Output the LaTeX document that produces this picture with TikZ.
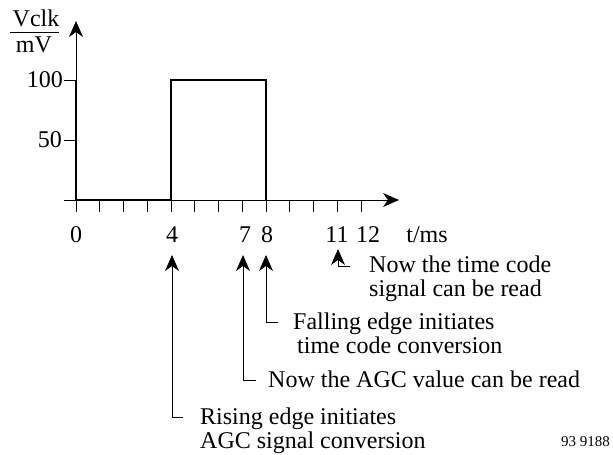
\documentclass[tikz,border=0pt]{standalone}
\usepackage{fontspec}
\setmainfont{Liberation Serif}
\usetikzlibrary{arrows.meta}
\begin{document}
\begin{tikzpicture}[x=1pt,y=-1pt,
  txt/.style={inner sep=0pt,anchor=base west,font=\fontsize{24}{24}\selectfont},
  lbl/.style={inner sep=0pt,anchor=base,font=\fontsize{24}{24}\selectfont},
  ylbl/.style={inner sep=0pt,anchor=base east,font=\fontsize{24}{24}\selectfont},
  axis/.style={line width=1pt},
  sig/.style={line width=2.5pt,line join=miter},
  arr/.style={line width=1pt,-{Stealth[length=16pt,width=14pt,inset=5pt]}},
  tick/.style={line width=1pt}]
\useasboundingbox (0,0) rectangle (613,455);
% axes
\coordinate (yb) at (76,212);
\coordinate (yt) at (76,21);
\coordinate (xl) at (64,200);
\coordinate (xr) at (399,200);
\draw[arr] (yb) -- (yt);
\draw[arr] (xl) -- (xr);
% y ticks
\coordinate (y100) at (76,80);
\coordinate (y50) at (76,140);
\draw[tick] (y100) -- ++(-12,0);
\draw[tick] (y50) -- ++(-12,0);
\node[ylbl] (l100) at (63,87) {100};
\node[ylbl] (l50) at (62,147) {50};
% y label fraction
\node[lbl] (vclk) at (36,27) {Vclk};
\node[lbl] (mv) at (34,52) {mV};
\draw[line width=1pt] (10,32) -- (59,32);
% x ticks
\foreach \i in {1,...,12} {\draw[tick] ({76+23.75*\i},200) -- ({76+23.75*\i},212);}
\node[lbl] (t0) at (76,242) {0};
\node[lbl] (t4) at (172,242) {4};
\node[lbl] (t7) at (245,242) {7};
\node[lbl] (t8) at (267,242) {8};
\node[lbl] (t11) at (337,242) {11};
\node[lbl] (t12) at (368,242) {12};
\node[lbl] (tms) at (427,242) {t/ms};
% signal
\draw[sig] (76,80) -- (76,200) -- (171,200) -- (171,80) -- (266,80) -- (266,200);
% annotation arrows
\coordinate (a4) at (172,255);
\coordinate (h4) at (183,417);
\coordinate (a7) at (243,255);
\coordinate (h7) at (256,380);
\coordinate (a8) at (266,255);
\coordinate (h8) at (278,322);
\coordinate (a11) at (338,249);
\coordinate (h11) at (350,266);
\draw[arr] (h4) -| (a4);
\draw[arr] (h7) -| (a7);
\draw[arr] (h8) -| (a8);
\draw[arr] (h11) -| (a11);
% annotation texts
\node[txt] (n11a) at (369,272) {Now the time code};
\node[txt] (n11b) at (369,296) {signal can be read};
\node[txt] (n8a) at (293,329) {Falling edge initiates};
\node[txt] (n8b) at (297,353) {time code conversion};
\node[txt] (n7) at (268,387) {Now the AGC value can be read};
\node[txt] (n4a) at (200,424) {Rising edge initiates};
\node[txt] (n4b) at (200,448) {AGC signal conversion};
\node[inner sep=0pt,anchor=base east,font=\fontsize{15}{15}\selectfont] (code) at (610,446) {93 9188};
\end{tikzpicture}
\end{document}
